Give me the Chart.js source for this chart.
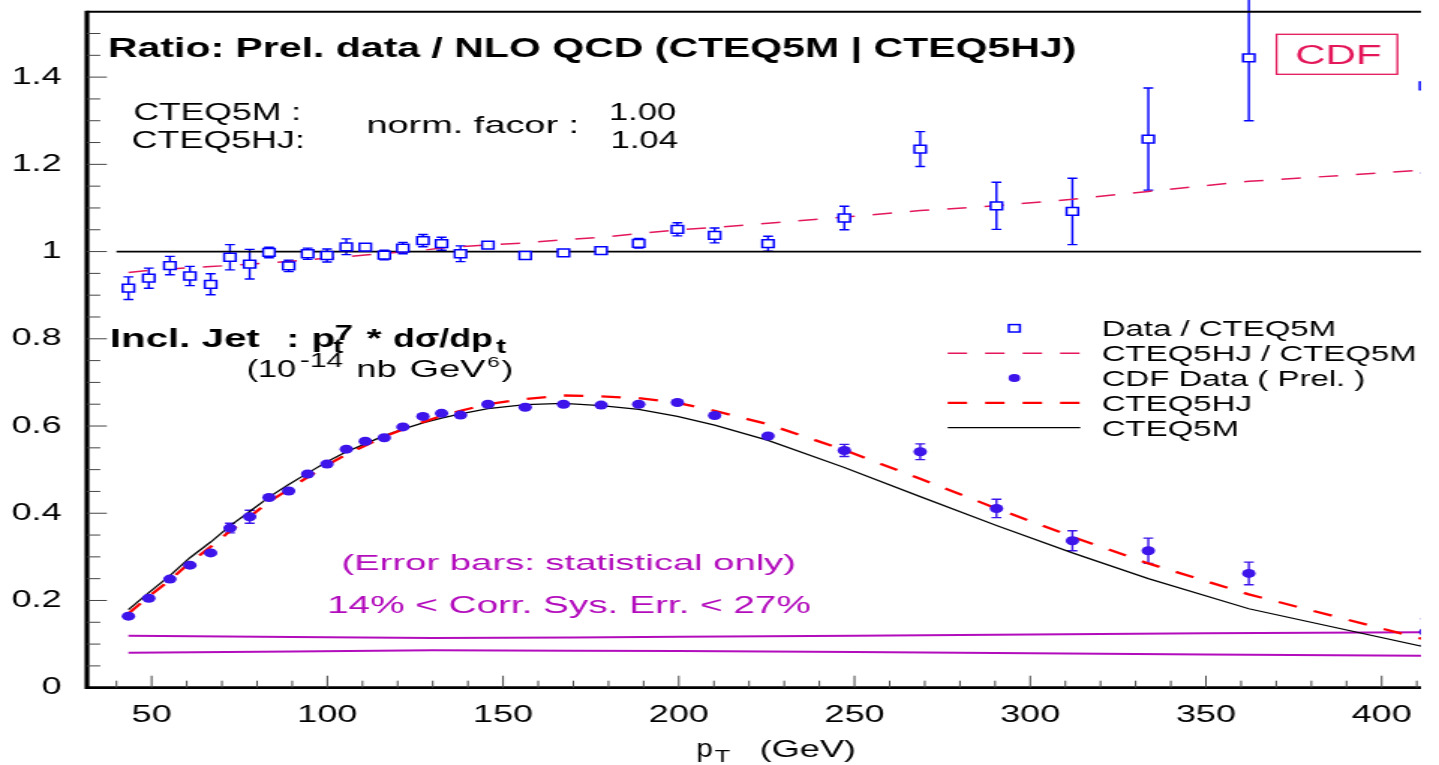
<!DOCTYPE html>
<html>
<head>
<meta charset="utf-8">
<script src="https://cdn.jsdelivr.net/npm/chart.js@4/dist/chart.umd.min.js"></script>
<style>
  html, body { margin: 0; padding: 0; background: #fff; }
</style>
</head>
<body>
<canvas id="grafico" width="960" height="765" style="width:1439px;height:765px"></canvas>
<script>
// pT bin centres (GeV)
const ptBins = [43.4, 49.2, 55.2, 60.9, 66.8, 72.3, 77.9, 83.4, 89.0, 94.4, 99.9,
  105.4, 110.8, 116.2, 121.5, 127.2, 132.5, 137.9, 145.7, 156.3, 167.2, 177.9,
  188.6, 199.6, 210.2, 225.4, 247.1, 268.7, 290.4, 312.0, 333.6, 362.2, 412.5];

// Data / CTEQ5M
const ratioData = [0.916, 0.939, 0.968, 0.944, 0.925, 0.987, 0.971, 0.998, 0.967, 0.995, 0.991,
  1.011, 1.010, 0.992, 1.008, 1.025, 1.018, 0.995, 1.015, 0.991, 0.997, 1.002,
  1.019, 1.051, 1.037, 1.018, 1.077, 1.235, 1.105, 1.092, 1.258, 1.444, 1.380];
const ratioErr = [0.026, 0.023, 0.021, 0.022, 0.024, 0.029, 0.034, 0.012, 0.013, 0.013, 0.015,
  0.018, 0.010, 0.011, 0.013, 0.014, 0.015, 0.018, 0.004, 0.004, 0.004, 0.004,
  0.011, 0.015, 0.017, 0.017, 0.027, 0.040, 0.054, 0.076, 0.117, 0.144, 0.200];

// CTEQ5HJ / CTEQ5M
const ratioHJ = [0.952, 0.957, 0.960, 0.963, 0.966, 0.968, 0.971, 0.974, 0.977, 0.981, 0.985,
  0.988, 0.992, 0.996, 0.999, 1.003, 1.008, 1.011, 1.015, 1.020, 1.027, 1.033,
  1.041, 1.050, 1.055, 1.065, 1.079, 1.094, 1.105, 1.120, 1.138, 1.161, 1.187];

// pt^7 * dsigma/dpt (1e-14 nb GeV^6)
const cdfData = [0.164, 0.205, 0.249, 0.281, 0.309, 0.366, 0.392, 0.436, 0.451, 0.490, 0.513,
  0.547, 0.565, 0.573, 0.598, 0.622, 0.629, 0.625, 0.650, 0.643, 0.650, 0.648,
  0.650, 0.654, 0.624, 0.577, 0.544, 0.541, 0.411, 0.337, 0.314, 0.262, 0.128];
const cdfErr = [0.003, 0.003, 0.003, 0.004, 0.004, 0.011, 0.015, 0.004, 0.004, 0.004, 0.004,
  0.005, 0.004, 0.004, 0.004, 0.006, 0.006, 0.010, 0.003, 0.003, 0.003, 0.003,
  0.004, 0.007, 0.010, 0.007, 0.014, 0.018, 0.021, 0.023, 0.029, 0.026, 0.030];

const cteq5m = [0.179, 0.218, 0.257, 0.298, 0.334, 0.371, 0.404, 0.437, 0.466, 0.492, 0.518,
  0.541, 0.559, 0.578, 0.593, 0.607, 0.618, 0.628, 0.640, 0.649, 0.652, 0.647,
  0.638, 0.622, 0.602, 0.567, 0.505, 0.438, 0.372, 0.309, 0.250, 0.181, 0.093];
const cteq5hj = [0.170, 0.209, 0.247, 0.287, 0.323, 0.359, 0.392, 0.426, 0.455, 0.483, 0.510,
  0.535, 0.555, 0.576, 0.592, 0.609, 0.623, 0.635, 0.650, 0.662, 0.670, 0.668,
  0.664, 0.653, 0.635, 0.604, 0.545, 0.479, 0.411, 0.346, 0.285, 0.214, 0.110];

// correlated systematic band edges
const sysX = [43.4, 90, 130, 170, 200, 250, 300, 350, 412.5];
const sysUp = [0.119, 0.116, 0.114, 0.115, 0.117, 0.119, 0.122, 0.125, 0.127];
const sysLow = [0.080, 0.083, 0.086, 0.085, 0.084, 0.082, 0.079, 0.076, 0.073];

const unityX = [40, 412.5];
const unityY = [1, 1];

const xTicks = [50, 100, 150, 200, 250, 300, 350, 400];

const fonte = '"Liberation Sans", Arial, Helvetica, sans-serif';
const azul = "#0000ff";
const violeta = "#3d14ea";
const carmim = "#e3175a";
const magenta = "#b20cbc";

function pontos(xs, ys) {
  return xs.map((x, i) => ({ x: x, y: ys[i] }));
}

const clipDireita = { left: false, top: false, right: 0, bottom: false };

const datasets = [
  {
    label: "Data / CTEQ5M",
    data: pontos(ptBins, ratioData),
    erros: ratioErr,
    corErro: azul,
    showLine: false,
    pointStyle: "rect",
    pointRadius: 5.5,
    pointBorderWidth: 1.5,
    pointBorderColor: azul,
    pointBackgroundColor: "#fff",
    clip: clipDireita
  },
  {
    label: "CDF Data ( Prel. )",
    data: pontos(ptBins, cdfData),
    erros: cdfErr,
    corErro: violeta,
    showLine: false,
    pointStyle: "circle",
    pointRadius: 4.5,
    pointBorderWidth: 0,
    pointBackgroundColor: violeta,
    clip: clipDireita
  },
  {
    label: "CTEQ5HJ / CTEQ5M",
    data: pontos(ptBins, ratioHJ),
    showLine: true,
    borderColor: carmim,
    borderWidth: 1.5,
    borderDash: [13, 12],
    pointRadius: 0,
    clip: clipDireita
  },
  {
    label: "unity",
    data: pontos(unityX, unityY),
    showLine: true,
    borderColor: "#000",
    borderWidth: 1.7,
    pointRadius: 0,
    clip: clipDireita
  },
  {
    label: "CTEQ5HJ",
    data: pontos(ptBins, cteq5hj),
    showLine: true,
    borderColor: "#ff0000",
    borderWidth: 2.3,
    borderDash: [13, 12],
    pointRadius: 0,
    clip: clipDireita
  },
  {
    label: "CTEQ5M",
    data: pontos(ptBins, cteq5m),
    showLine: true,
    borderColor: "#000",
    borderWidth: 1.3,
    pointRadius: 0,
    clip: clipDireita
  },
  {
    label: "sys up",
    data: pontos(sysX, sysUp),
    showLine: true,
    borderColor: magenta,
    borderWidth: 2,
    pointRadius: 0,
    clip: clipDireita
  },
  {
    label: "sys low",
    data: pontos(sysX, sysLow),
    showLine: true,
    borderColor: magenta,
    borderWidth: 2,
    pointRadius: 0,
    clip: clipDireita
  }
];

const ordemLegenda = [0, 2, 1, 4, 5];

function texto(ctx, s, x, y, size, opts) {
  opts = opts || {};
  ctx.save();
  ctx.font = (opts.bold ? "bold " : "") + size + "px " + fonte;
  ctx.fillStyle = opts.color || "#000";
  ctx.textBaseline = opts.base || "alphabetic";
  ctx.translate(x, y);
  if (opts.w) ctx.scale(opts.w / ctx.measureText(s).width, 1);
  ctx.fillText(s, 0, 0);
  ctx.restore();
}

const moldura = {
  id: "moldura",

  beforeDatasetsDraw(chart) {
    const ctx = chart.ctx;
    const a = chart.chartArea;
    const ys = chart.scales.y;
    ctx.save();
    ctx.beginPath();
    ctx.rect(0, 0, a.right, chart.height);
    ctx.clip();
    chart.data.datasets.forEach((d, i) => {
      if (!d.erros) return;
      const meta = chart.getDatasetMeta(i);
      ctx.strokeStyle = d.corErro;
      ctx.lineWidth = 1.4;
      meta.data.forEach((el, j) => {
        const v = d.data[j].y;
        const e = d.erros[j];
        const y1 = ys.getPixelForValue(v + e);
        const y2 = ys.getPixelForValue(v - e);
        if (y2 - y1 < 9) return;
        ctx.beginPath();
        ctx.moveTo(el.x, y1); ctx.lineTo(el.x, y2);
        ctx.moveTo(el.x - 3.3, y1); ctx.lineTo(el.x + 3.3, y1);
        ctx.moveTo(el.x - 3.3, y2); ctx.lineTo(el.x + 3.3, y2);
        ctx.stroke();
      });
    });
    ctx.restore();
  },

  afterDraw(chart) {
    const ctx = chart.ctx;
    const a = chart.chartArea;
    const xs = chart.scales.x;
    const ys = chart.scales.y;

    // frame
    ctx.save();
    ctx.strokeStyle = "#000";
    ctx.lineWidth = 3.2;
    ctx.beginPath();
    ctx.moveTo(a.left, a.top - 1);
    ctx.lineTo(a.left, a.bottom + 1.3);
    ctx.stroke();
    ctx.lineWidth = 2.7;
    ctx.beginPath();
    ctx.moveTo(a.left, a.bottom);
    ctx.lineTo(a.right, a.bottom);
    ctx.stroke();
    ctx.lineWidth = 2;
    ctx.beginPath();
    ctx.moveTo(a.left, a.top);
    ctx.lineTo(a.right, a.top);
    ctx.stroke();

    // inward ticks
    ctx.lineWidth = 1;
    ctx.strokeStyle = "#444";
    for (let v = 40; v <= 410; v += 10) {
      const px = xs.getPixelForValue(v);
      const len = v % 50 === 0 ? 12 : 7;
      ctx.beginPath();
      ctx.moveTo(px, a.bottom);
      ctx.lineTo(px, a.bottom - len);
      ctx.stroke();
    }
    for (let i = 1; i <= 30; i++) {
      const py = ys.getPixelForValue(i * 0.05);
      const len = i % 4 === 0 ? 13.3 : 8.9;
      ctx.beginPath();
      ctx.moveTo(a.left, py);
      ctx.lineTo(a.left + len, py);
      ctx.stroke();
    }
    ctx.restore();

    // upper panel texts
    texto(ctx, "Ratio: Prel. data / NLO QCD (CTEQ5M | CTEQ5HJ)", 72, 57, 27, { bold: true, w: 646 });
    texto(ctx, "CTEQ5M :", 88.9, 120, 23.5, { w: 112 });
    texto(ctx, "CTEQ5HJ:", 87.8, 147.7, 23.5, { w: 115.6 });
    texto(ctx, "norm. facor :", 244.4, 132.7, 24, { w: 142 });
    texto(ctx, "1.00", 406.2, 120, 23, { w: 45 });
    texto(ctx, "1.04", 407.3, 147.7, 23, { w: 45 });

    // CDF box
    ctx.save();
    ctx.strokeStyle = carmim;
    ctx.lineWidth = 1.3;
    ctx.strokeRect(851.6, 34.3, 80.6, 40);
    ctx.restore();
    texto(ctx, "CDF", 864, 64.3, 27, { color: carmim, w: 57.8 });

    // lower panel texts
    texto(ctx, "Incl. Jet", 73.3, 346.7, 26, { bold: true, w: 100 });
    texto(ctx, ":", 191, 346.7, 26, { bold: true });
    texto(ctx, "p", 207.8, 346.7, 26, { bold: true });
    texto(ctx, "7", 223.3, 340, 22, { bold: true });
    texto(ctx, "t", 222.2, 353, 20, { bold: true });
    texto(ctx, "*", 244.4, 346.7, 26, { bold: true });
    texto(ctx, "d\u03c3/dp", 262.2, 346.7, 26, { bold: true, w: 66.5 });
    texto(ctx, "t", 331, 353, 20, { bold: true });

    texto(ctx, "(10", 164.4, 376.7, 23);
    texto(ctx, "-14", 200, 366.7, 20, { w: 28.9 });
    texto(ctx, "nb", 237.8, 376.7, 24);
    texto(ctx, "GeV", 273.3, 376.7, 24, { w: 50.5 });
    texto(ctx, "6", 325, 366.7, 15);
    texto(ctx, ")", 334.5, 376.7, 24);

    texto(ctx, "(Error bars: statistical only)", 227.8, 570, 22, { color: magenta, w: 303.3 });
    texto(ctx, "14% < Corr. Sys. Err. < 27%", 218.2, 613, 23, { color: magenta, w: 322.7 });

    // x axis title
    texto(ctx, "p", 464.4, 757, 25, { w: 11 });
    texto(ctx, "T", 476.7, 762, 17);
    texto(ctx, "(GeV)", 506.7, 757, 24, { w: 64.3 });

    // legend
    const y0 = 328.3;
    const passo = 24.85;
    ordemLegenda.forEach((idx, k) => {
      const d = chart.data.datasets[idx];
      const yy = y0 + k * passo;
      ctx.save();
      if (d.showLine) {
        ctx.strokeStyle = d.borderColor;
        ctx.lineWidth = d.borderWidth;
        ctx.setLineDash(d.borderDash || []);
        ctx.beginPath();
        ctx.moveTo(632.2, yy);
        ctx.lineTo(720.7, yy);
        ctx.stroke();
      } else if (d.pointStyle === "rect") {
        ctx.fillStyle = d.pointBackgroundColor;
        ctx.strokeStyle = d.pointBorderColor;
        ctx.lineWidth = d.pointBorderWidth;
        ctx.fillRect(676.7 - 3.7, yy - 3.7, 7.4, 7.4);
        ctx.strokeRect(676.7 - 3.7, yy - 3.7, 7.4, 7.4);
      } else {
        ctx.fillStyle = d.pointBackgroundColor;
        ctx.beginPath();
        ctx.arc(676.7, yy, 3.9, 0, Math.PI * 2);
        ctx.fill();
      }
      ctx.restore();
      texto(ctx, d.label, 734.9, yy + 7.8, 22);
    });
  }
};

const ctx = document.getElementById("grafico");

const grafico = new Chart(ctx, {
  type: "scatter",
  data: { datasets: datasets },
  options: {
    responsive: false,
    animation: false,
    devicePixelRatio: 1,
    layout: { padding: { top: 11.7, right: 12, left: 0, bottom: 0 } },
    plugins: {
      legend: { display: false },
      tooltip: { enabled: false }
    },
    elements: { line: { tension: 0, fill: false } },
    scales: {
      x: {
        type: "linear",
        min: 31.6,
        max: 411.2,
        afterFit(scale) {
          scale.height = 77.3;
          scale.paddingLeft = 0;
          scale.paddingRight = 0;
        },
        afterBuildTicks(scale) { scale.ticks = xTicks.map(v => ({ value: v })); },
        grid: { display: false, drawTicks: false },
        border: { display: false },
        ticks: {
          padding: 13,
          maxRotation: 0,
          autoSkip: false,
          color: "#000",
          font: { family: fonte, size: 24 },
          callback: v => String(v)
        }
      },
      y: {
        type: "linear",
        min: 0,
        max: 1.55,
        afterFit(scale) {
          scale.width = 58;
          scale.paddingTop = 0;
          scale.paddingBottom = 0;
        },
        grid: { display: false, drawTicks: false },
        border: { display: false },
        ticks: {
          stepSize: 0.2,
          includeBounds: false,
          padding: 17,
          color: "#000",
          font: { family: fonte, size: 24 },
          callback: v => String(+v.toFixed(2))
        }
      }
    }
  },
  plugins: [moldura]
});
</script>
</body>
</html>
